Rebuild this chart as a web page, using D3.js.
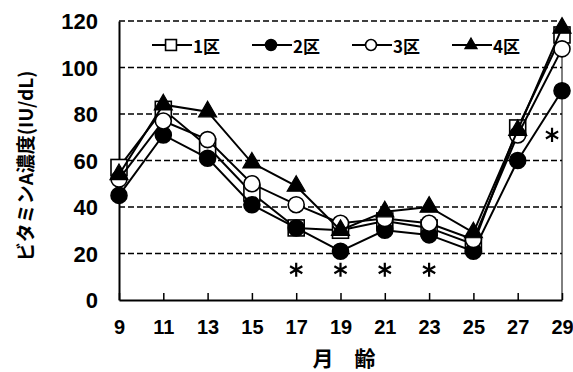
<!DOCTYPE html>
<html>
<head>
<meta charset="utf-8">
<script src="https://cdn.jsdelivr.net/npm/d3@7"></script>
<style>
  html, body { margin: 0; padding: 0; background: #fff; }
  svg { display: block; }
</style>
</head>
<body>
<svg id="chart" width="573" height="372"></svg>
<script>
// ---- data ----
const months = [9, 11, 13, 15, 17, 19, 21, 23, 25, 27, 29];
const seriesNames = ["1区", "2区", "3区", "4区"];
const ku1 = [57, 82, 66, 46, 31, 30, 34, 31, 24, 74, 114];
const ku2 = [45, 71, 61, 41, 31, 21, 30, 28, 21, 60, 90];
const ku3 = [52, 77, 69, 50, 41, 33, 35, 33, 26, 71, 108];
const ku4 = [54, 84, 81, 59, 49, 30, 38, 40, 29, 73, 117];
const yTicks = [0, 20, 40, 60, 80, 100, 120];
const xTicks = [9, 11, 13, 15, 17, 19, 21, 23, 25, 27, 29];
const sigX = [17, 19, 21, 23, 28.55];
const sigY = [13, 13, 13, 13, 71];
const yTitle = "ビタミンA濃度(IU/dL)";
const xTitle = "月\u3000齢";

// ---- layout ----
const svg = d3.select("#chart");
const L = 119, R = 562, T = 21, B = 300;
const x = d3.scaleLinear().domain([9, 29]).range([L, R]);
const y = d3.scaleLinear().domain([0, 120]).range([B, T]);
const numFont = "'Liberation Sans', Arial, sans-serif";
const jpFont = "'Noto Sans CJK JP', sans-serif";

// gridlines (dashed) incl. top
svg.append("g").selectAll("line")
  .data(yTicks.filter(d => d > 0))
  .join("line")
  .attr("x1", L).attr("x2", R)
  .attr("y1", d => y(d)).attr("y2", d => y(d))
  .attr("stroke", "#000").attr("stroke-width", 1.5)
  .attr("stroke-dasharray", "6,3");

// right border thin
svg.append("line").attr("x1", R).attr("x2", R).attr("y1", T).attr("y2", B)
  .attr("stroke", "#000").attr("stroke-width", 1);

// x axis with inner ticks
const xAxis = d3.axisBottom(x).tickValues(xTicks).tickSizeInner(-7).tickSizeOuter(0).tickFormat(d3.format("d"));
const gx = svg.append("g").attr("transform", `translate(0,${B})`).call(xAxis);
gx.select(".domain").attr("stroke", "#000").attr("stroke-width", 2);
gx.selectAll(".tick line").attr("stroke", "#000").attr("stroke-width", 1.5);
gx.selectAll(".tick text")
  .attr("font-family", numFont).attr("font-weight", "bold").attr("font-size", 20)
  .attr("fill", "#000").attr("dy", 0).attr("y", 34);

// y axis (no ticks)
const yAxis = d3.axisLeft(y).tickValues(yTicks).tickSize(0).tickPadding(21);
const gy = svg.append("g").attr("transform", `translate(${L},0)`).call(yAxis);
gy.select(".domain").attr("stroke", "#000").attr("stroke-width", 2);
gy.selectAll(".tick text")
  .attr("font-family", numFont).attr("font-weight", "bold").attr("font-size", 22)
  .attr("fill", "#000").attr("dy", "0.36em");

// titles
svg.append("text")
  .attr("transform", `translate(24,166) rotate(-90)`)
  .attr("text-anchor", "middle").attr("dominant-baseline", "central")
  .attr("font-family", jpFont).attr("font-weight", "bold").attr("font-size", 19)
  .text(yTitle);
svg.append("text")
  .attr("x", 344).attr("y", 366)
  .attr("text-anchor", "middle")
  .attr("font-family", jpFont).attr("font-weight", "bold").attr("font-size", 21)
  .text(xTitle);

// markers
const markerDefs = [
  { type: "square", fill: "#fff" },
  { type: "circle", fill: "#000" },
  { type: "circle", fill: "#fff" },
  { type: "triangle", fill: "#000" }
];
function drawMarker(g, def, cx, cy, scale) {
  if (def.type === "square") {
    const s = 16 * scale;
    g.append("rect").attr("x", cx - s / 2).attr("y", cy - s / 2).attr("width", s).attr("height", s)
      .attr("fill", def.fill).attr("stroke", "#000").attr("stroke-width", 1.6);
  } else if (def.type === "circle") {
    g.append("circle").attr("cx", cx).attr("cy", cy).attr("r", 8 * scale)
      .attr("fill", def.fill).attr("stroke", "#000").attr("stroke-width", 1.6);
  } else {
    const side = 18 * scale;
    const area = side * side * Math.sqrt(3) / 4;
    g.append("path").attr("d", d3.symbol(d3.symbolTriangle, area)())
      .attr("transform", `translate(${cx},${cy})`)
      .attr("fill", def.fill).attr("stroke", "#000").attr("stroke-width", 1.2);
  }
}

const allSeries = [ku1, ku2, ku3, ku4];
const line = d3.line().x((d, i) => x(months[i])).y(d => y(d));
allSeries.forEach((vals, si) => {
  const g = svg.append("g");
  g.append("path").datum(vals).attr("d", line)
    .attr("fill", "none").attr("stroke", "#000").attr("stroke-width", 2);
  vals.forEach((v, i) => drawMarker(g, markerDefs[si], x(months[i]), y(v), 1));
});

// significance asterisks
const star = d3.symbol(d3.symbolAsterisk, 140);
svg.append("g").selectAll("path")
  .data(sigX.map((d, i) => [d, sigY[i]]))
  .join("path")
  .attr("d", star())
  .attr("transform", d => `translate(${x(d[0])},${y(d[1])})`)
  .attr("fill", "none").attr("stroke", "#000").attr("stroke-width", 2.2);

// legend
const legendStarts = [152, 252, 352, 452];
const ly = 45;
seriesNames.forEach((name, i) => {
  const g = svg.append("g");
  const sx = legendStarts[i];
  g.append("line").attr("x1", sx).attr("x2", sx + 40).attr("y1", ly).attr("y2", ly)
    .attr("stroke", "#000").attr("stroke-width", 2);
  drawMarker(g, markerDefs[i], sx + 19, ly, 0.68);
  g.append("text").attr("x", sx + 41).attr("y", ly).attr("dominant-baseline", "central")
    .attr("font-family", jpFont).attr("font-weight", "bold").attr("font-size", 17)
    .text(name);
});
</script>
</body>
</html>
